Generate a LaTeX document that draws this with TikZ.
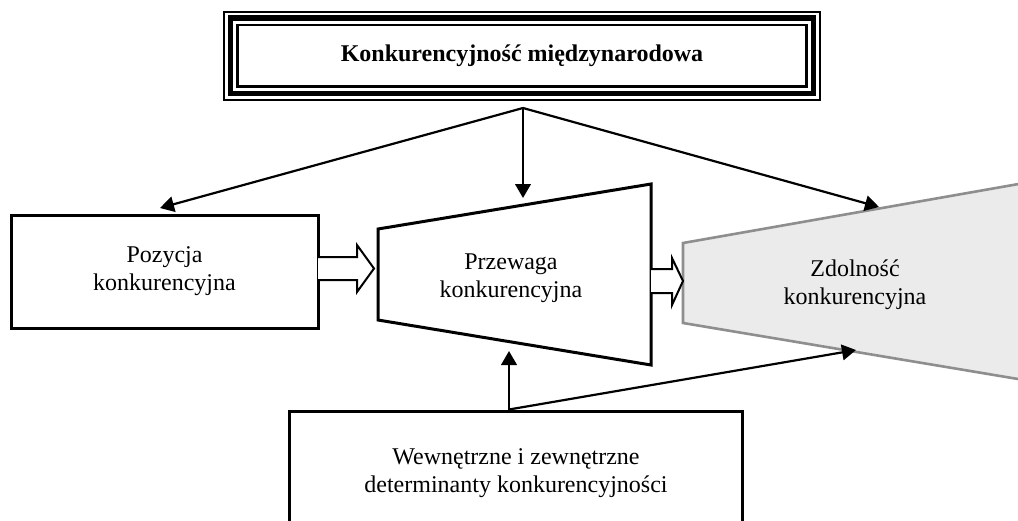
\documentclass[tikz,border=0pt]{standalone}
\usepackage{fontspec}
\setmainfont{Liberation Serif}
\usetikzlibrary{arrows.meta,calc}
\definecolor{panelgrey}{HTML}{EBEBEB}
\definecolor{edgegrey}{HTML}{8E8E8E}
\tikzset{
  boxst/.style={draw=black, line width=1.5pt, align=center, inner sep=0pt},
  label/.style={align=center, inner sep=0pt},
  arr/.style={line width=1.1pt, -{Triangle[length=7pt,width=7.8pt]}},
  hollow/.style={draw=black, line width=1pt, fill=white, line join=miter},
  trap/.style={draw=black, line width=1.5pt, fill=white, line join=miter},
  greytrap/.style={draw=edgegrey, line width=1.3pt, fill=panelgrey, line join=miter}
}
\begin{document}
\begin{tikzpicture}[x=0.5pt, y=-0.5pt, font=\fontsize{12}{14}\selectfont]
\useasboundingbox (0,0) rectangle (1018,520);
\clip (0,0) rectangle (1018,520);

% title box with a thin-thick-thin frame
\draw[line width=1pt]   (224,11.5) rectangle (820,100);
\draw[line width=2.6pt] (230.5,18) rectangle (813.5,93.5);
\draw[line width=1.3pt] (237.5,25) rectangle (806.5,86.5);
\node[label, font=\fontsize{12}{14}\selectfont\bfseries] (title) at (522,56) {Konkurencyjność międzynarodowa};

% left box
\node[boxst, minimum width=153.5pt, minimum height=56.5pt] (poz) at (164.5,271.5) {Pozycja\\konkurencyjna};

% middle trapezoid
\draw[trap] (378,229) -- (651,184) -- (651,365) -- (378,320) -- cycle;
\node[label] (prz) at (511,278) {Przewaga\\konkurencyjna};

% grey trapezoid running off the right edge
\draw[greytrap] (683,243) -- (1030,182) -- (1030,381) -- (683,323) -- cycle;
\node[label] (zdo) at (855,285) {Zdolność\\konkurencyjna};

% bottom box, open below
\node[boxst, minimum width=226.5pt, minimum height=60pt] (det) at (515.5,471) {};
\node[label] (dettext) at (516,473) {Wewnętrzne i zewnętrzne\\determinanty konkurencyjności};

% hollow block arrows
\coordinate (ha1) at (318,268.5);
\draw[hollow] (ha1) ++(0,-11.5) -- ++(39,0) -- ++(0,-12) -- (374,268.5) -- (357,292) -- ++(0,-12) -- ($(ha1)+(0,11.5)$);
\coordinate (ha2) at (651,281);
\draw[hollow] (ha2) ++(0,-12) -- ++(21,0) -- ++(0,-11) -- (683,281) -- (672,305) -- ++(0,-12) -- ($(ha2)+(0,12)$);

% arrows from the title
\coordinate (fork) at (523,108);
\coordinate (tipPoz) at (160,208);
\coordinate (tipPrz) at (523,198);
\coordinate (tipZdo) at (879,207);
\draw[arr] (fork) -- (tipPoz);
\draw[arr] (fork) -- (tipPrz);
\draw[arr] (fork) -- (tipZdo);

% arrows from the determinants
\coordinate (root) at (509,409.5);
\coordinate (tipPrzB) at (509,351);
\coordinate (tipZdoB) at (856,350);
\draw[arr] (root) -- (tipPrzB);
\draw[arr] (root) -- (tipZdoB);
\end{tikzpicture}
\end{document}
